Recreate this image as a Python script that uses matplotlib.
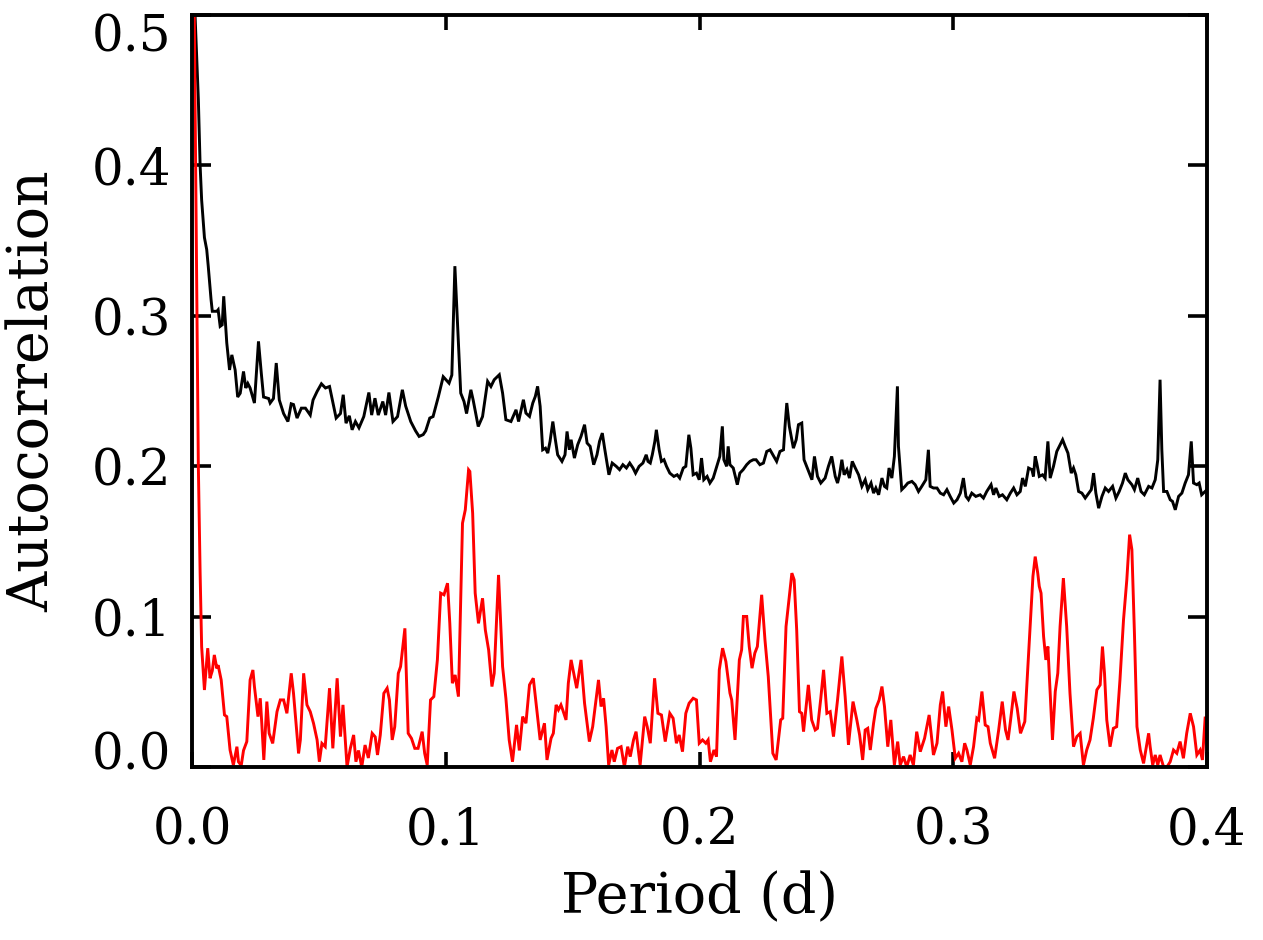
import matplotlib
matplotlib.use("Agg")
import matplotlib.pyplot as plt
import matplotlib.transforms as mtransforms
import numpy as np

# Black curve: period (d), autocorrelation
black_x = [0.0005, 0.0012, 0.0025, 0.0032, 0.0038, 0.0049, 0.0058, 0.0064, 0.0075, 0.0080, 0.0098, 0.0103,
           0.0111, 0.0119, 0.0125, 0.0130, 0.0137, 0.0148, 0.0157, 0.0170, 0.0180, 0.0190, 0.0203, 0.0212,
           0.0220, 0.0229, 0.0246, 0.0262, 0.0273, 0.0282, 0.0302, 0.0308, 0.0321, 0.0332, 0.0344, 0.0361,
           0.0378, 0.0391, 0.0400, 0.0414, 0.0431, 0.0447, 0.0466, 0.0477, 0.0493, 0.0510, 0.0526, 0.0542,
           0.0552, 0.0568, 0.0585, 0.0596, 0.0607, 0.0620, 0.0631, 0.0644, 0.0658, 0.0677, 0.0697, 0.0708,
           0.0721, 0.0734, 0.0752, 0.0763, 0.0776, 0.0792, 0.0810, 0.0829, 0.0842, 0.0862, 0.0881, 0.0895,
           0.0911, 0.0921, 0.0937, 0.0950, 0.0971, 0.0990, 0.1013, 0.1024, 0.1036, 0.1053, 0.1059, 0.1072,
           0.1082, 0.1099, 0.1108, 0.1128, 0.1145, 0.1165, 0.1178, 0.1191, 0.1211, 0.1224, 0.1237, 0.1257,
           0.1277, 0.1287, 0.1306,
           0.1316, 0.1330, 0.1343, 0.1353, 0.1362, 0.1372, 0.1382, 0.1393, 0.1402, 0.1411, 0.1422, 0.1431,
           0.1441, 0.1458, 0.1470, 0.1478, 0.1487, 0.1494, 0.1507, 0.1520, 0.1533, 0.1547, 0.1557, 0.1569,
           0.1583, 0.1596, 0.1606, 0.1617, 0.1626, 0.1643, 0.1656, 0.1672, 0.1685, 0.1698, 0.1712, 0.1725,
           0.1738, 0.1748, 0.1762, 0.1777, 0.1790, 0.1797, 0.1806, 0.1814, 0.1824, 0.1830, 0.1841, 0.1850,
           0.1860, 0.1870, 0.1883, 0.1899, 0.1912, 0.1922, 0.1936, 0.1946, 0.1958, 0.1966, 0.1975,
           0.1988, 0.1999, 0.2008, 0.2017, 0.2030, 0.2041, 0.2054, 0.2070, 0.2080, 0.2090, 0.2096, 0.2107,
           0.2113, 0.2120, 0.2133, 0.2149, 0.2159, 0.2172, 0.2186, 0.2199, 0.2212, 0.2223, 0.2238, 0.2252,
           0.2265, 0.2278, 0.2289, 0.2304, 0.2317, 0.2331, 0.2337, 0.2344, 0.2354, 0.2364, 0.2370, 0.2381,
           0.2390, 0.2403, 0.2412, 0.2425, 0.2443, 0.2453, 0.2465, 0.2478, 0.2495, 0.2508, 0.2521, 0.2535,
           0.2544, 0.2552, 0.2561, 0.2570, 0.2581, 0.2591, 0.2602, 0.2614, 0.2627, 0.2640,
           0.2653, 0.2663, 0.2676, 0.2686, 0.2695, 0.2706, 0.2719, 0.2729, 0.2738, 0.2747, 0.2758, 0.2768,
           0.2780, 0.2784, 0.2797, 0.2810, 0.2821, 0.2837, 0.2850, 0.2863, 0.2876, 0.2892, 0.2902, 0.2909,
           0.2922, 0.2936, 0.2949, 0.2962, 0.2975, 0.2988, 0.3002, 0.3015, 0.3028, 0.3040, 0.3050, 0.3060,
           0.3073, 0.3089, 0.3106, 0.3119, 0.3132, 0.3149, 0.3159, 0.3168, 0.3181, 0.3194, 0.3211, 0.3225,
           0.3238, 0.3251, 0.3264, 0.3273, 0.3284, 0.3297, 0.3310, 0.3316,
           0.3323, 0.3329, 0.3339, 0.3352, 0.3362, 0.3373, 0.3382, 0.3395, 0.3408, 0.3421, 0.3431, 0.3441,
           0.3452, 0.3465, 0.3474, 0.3483, 0.3494, 0.3507, 0.3520, 0.3534, 0.3544, 0.3553, 0.3562, 0.3573,
           0.3586, 0.3599, 0.3612, 0.3628, 0.3641, 0.3654, 0.3667, 0.3678, 0.3688, 0.3704, 0.3714, 0.3727,
           0.3740, 0.3753, 0.3770, 0.3783, 0.3796, 0.3806, 0.3815, 0.3822, 0.3829, 0.3842, 0.3855, 0.3864,
           0.3875, 0.3888, 0.3901, 0.3914, 0.3927, 0.3938, 0.3947, 0.3960, 0.3969, 0.3979, 0.3993, 0.4000]
black_y = [0.580, 0.500, 0.444, 0.400, 0.377, 0.352, 0.344, 0.333, 0.311, 0.303, 0.303, 0.304,
           0.293, 0.294, 0.313, 0.300, 0.282, 0.264, 0.274, 0.264, 0.246, 0.2485, 0.263, 0.252,
           0.255, 0.252, 0.242, 0.283, 0.262, 0.246, 0.245, 0.242, 0.245, 0.2686, 0.244, 0.235,
           0.2297, 0.2415, 0.241, 0.232, 0.2386, 0.2386, 0.234, 0.244, 0.2497, 0.2548, 0.252, 0.253,
           0.245, 0.232, 0.235, 0.2475, 0.2286, 0.2335, 0.2242, 0.2297, 0.2255, 0.233, 0.249, 0.234,
           0.2452, 0.234, 0.243, 0.234, 0.249, 0.2297, 0.233, 0.2508, 0.240, 0.2297, 0.2235, 0.2198,
           0.221, 0.2235, 0.232, 0.233, 0.2463, 0.2595, 0.2552, 0.2606, 0.333, 0.2708, 0.2486, 0.243,
           0.235, 0.2508, 0.244, 0.2264, 0.233, 0.2564, 0.253, 0.2575, 0.2608, 0.2486, 0.2309, 0.2297,
           0.2375, 0.2297, 0.2442,
           0.2353, 0.2331, 0.242, 0.2464, 0.2531, 0.2398, 0.2109, 0.212, 0.2087, 0.2165, 0.2297, 0.2187,
           0.2076, 0.2032, 0.2076, 0.2231, 0.2109, 0.2176, 0.2054, 0.2143, 0.2198, 0.2276, 0.2154, 0.2132,
           0.201, 0.2076, 0.2165, 0.222, 0.212, 0.1943, 0.2021, 0.1999, 0.1977, 0.201, 0.1988, 0.2021,
           0.1988, 0.1954, 0.1999, 0.2021, 0.2076, 0.2032, 0.2021, 0.2076, 0.2165, 0.2242, 0.2109, 0.2032,
           0.2043, 0.1999, 0.1954, 0.1932, 0.1943, 0.1921, 0.1988, 0.1999, 0.2209, 0.212, 0.1943,
           0.1954, 0.191, 0.2054, 0.191, 0.1932, 0.1888, 0.1921, 0.201, 0.2065, 0.2265, 0.2043, 0.1999,
           0.2132, 0.201, 0.1988, 0.1877, 0.1954, 0.1977, 0.201, 0.2032, 0.2043, 0.2043, 0.201, 0.2021,
           0.2098, 0.2109, 0.2076, 0.2032, 0.2098, 0.2109, 0.2265, 0.2420, 0.2265, 0.2176, 0.2120, 0.2176,
           0.2276, 0.2287, 0.2043, 0.1988, 0.191, 0.2065, 0.1932, 0.1888, 0.1921, 0.1999, 0.2065, 0.1932,
           0.1888, 0.1943, 0.2043, 0.1943, 0.1977, 0.1921, 0.2032, 0.1988, 0.1943, 0.1866,
           0.1910, 0.1844, 0.1888, 0.1821, 0.1855, 0.1810, 0.1921, 0.1866, 0.1855, 0.1988, 0.1921, 0.2065,
           0.2531, 0.2132, 0.1844, 0.1866, 0.1888, 0.1899, 0.1877, 0.1832, 0.1866, 0.1910, 0.2109, 0.1866,
           0.1855, 0.1855, 0.1821, 0.1810, 0.1844, 0.1799, 0.1755, 0.1777, 0.1821, 0.1921, 0.1799, 0.1777,
           0.1821, 0.1799, 0.1810, 0.1788, 0.1832, 0.1877, 0.1810, 0.1855, 0.1799, 0.1810, 0.1777, 0.1821,
           0.1855, 0.1810, 0.1832, 0.1921, 0.1866, 0.1988, 0.1977, 0.1932,
           0.2065, 0.2021, 0.1932, 0.1943, 0.1921, 0.2165, 0.1921, 0.1999, 0.2098, 0.2143, 0.2176, 0.2132,
           0.2087, 0.1954, 0.1988, 0.1943, 0.1832, 0.1821, 0.1788, 0.1821, 0.1844, 0.1954, 0.1821, 0.1721,
           0.1799, 0.1855, 0.1832, 0.1866, 0.1788, 0.1832, 0.1888, 0.1954, 0.1910, 0.1877, 0.1844, 0.1921,
           0.1832, 0.1810, 0.1866, 0.1855, 0.1910, 0.2043, 0.2575, 0.2109, 0.1832, 0.1832, 0.1777, 0.1766,
           0.1710, 0.1799, 0.1821, 0.1888, 0.1943, 0.2165, 0.1888, 0.1877, 0.1888, 0.1810, 0.1832, 0.1844]

# Red curve
red_x = [0.0003, 0.0009, 0.0025, 0.0032, 0.0038, 0.0049, 0.0062, 0.0071, 0.0080, 0.0088, 0.0098, 0.0103,
         0.0115, 0.0128, 0.0137, 0.0150, 0.0163, 0.0177, 0.0183, 0.0194, 0.0203, 0.0216, 0.0229, 0.0240,
         0.0246, 0.0260, 0.0269, 0.0275, 0.0283, 0.0295, 0.0304, 0.0318, 0.0335, 0.0348, 0.0361, 0.0374,
         0.0391, 0.0400, 0.0420, 0.0427, 0.0440, 0.0453, 0.0466, 0.0479, 0.0493, 0.0502, 0.0512, 0.0525,
         0.0542, 0.0555, 0.0572, 0.0585, 0.0595, 0.0611, 0.0624, 0.0637, 0.0646, 0.0656, 0.0669, 0.0682,
         0.0695, 0.0710, 0.0722, 0.0731, 0.0742, 0.0756, 0.0769, 0.0778, 0.0789, 0.0799, 0.0813, 0.0822,
         0.0839, 0.0852, 0.0865, 0.0878, 0.0891, 0.0907, 0.0917, 0.0927, 0.0940, 0.0953, 0.0967, 0.0980,
         0.0993, 0.1007, 0.1016, 0.1026, 0.1037, 0.1050, 0.1066, 0.1077, 0.1090, 0.1095, 0.1106, 0.1116,
         0.1129, 0.1145, 0.1156, 0.1169, 0.1182, 0.1191, 0.1208, 0.1224, 0.1237, 0.1250, 0.1263, 0.1279,
         0.1290, 0.1303,
         0.1316, 0.1330, 0.1345, 0.1356, 0.1372, 0.1389, 0.1399, 0.1415, 0.1424, 0.1435, 0.1444, 0.1454,
         0.1461, 0.1474, 0.1483, 0.1494, 0.1503, 0.1516, 0.1527, 0.1533, 0.1547, 0.1566, 0.1579, 0.1589,
         0.1602, 0.1612, 0.1622, 0.1632, 0.1642, 0.1655, 0.1664, 0.1677, 0.1691, 0.1704, 0.1717, 0.1727,
         0.1740, 0.1750, 0.1766, 0.1784, 0.1794, 0.1806, 0.1823, 0.1836, 0.1850, 0.1865, 0.1883, 0.1896,
         0.1909, 0.1920, 0.1933, 0.1946, 0.1959, 0.1975,
         0.1988, 0.1999, 0.2012, 0.2025, 0.2034, 0.2043, 0.2057, 0.2067, 0.2078, 0.2091, 0.2104, 0.2120,
         0.2127, 0.2140, 0.2157, 0.2166, 0.2173, 0.2186, 0.2196, 0.2207, 0.2218, 0.2228, 0.2245, 0.2258,
         0.2271, 0.2289, 0.2302, 0.2311, 0.2320, 0.2328, 0.2341, 0.2354, 0.2364, 0.2373, 0.2383, 0.2394,
         0.2403, 0.2410, 0.2429, 0.2442, 0.2456, 0.2465, 0.2478, 0.2489, 0.2502, 0.2515, 0.2528, 0.2544,
         0.2561, 0.2574, 0.2587, 0.2605, 0.2620, 0.2631, 0.2643,
         0.2653, 0.2663, 0.2673, 0.2686, 0.2695, 0.2708, 0.2719, 0.2729, 0.2742, 0.2754, 0.2768, 0.2781,
         0.2791, 0.2804, 0.2817, 0.2830, 0.2843, 0.2856, 0.2870, 0.2887, 0.2905, 0.2922, 0.2936, 0.2949,
         0.2958, 0.2971, 0.2982, 0.2995, 0.3008, 0.3021, 0.3034, 0.3045, 0.3054, 0.3067, 0.3080, 0.3093,
         0.3100, 0.3113, 0.3126, 0.3137, 0.3146, 0.3163, 0.3179, 0.3193, 0.3206, 0.3216, 0.3226, 0.3239,
         0.3252, 0.3265, 0.3282, 0.3294, 0.3305, 0.3314,
         0.3323, 0.3333, 0.3339, 0.3346, 0.3356, 0.3365, 0.3373, 0.3382, 0.3391, 0.3402, 0.3412, 0.3421,
         0.3434, 0.3447, 0.3460, 0.3474, 0.3487, 0.3500, 0.3513, 0.3526, 0.3539, 0.3552, 0.3566, 0.3579,
         0.3588, 0.3596, 0.3605, 0.3618, 0.3631, 0.3644, 0.3657, 0.3671, 0.3684, 0.3695, 0.3704, 0.3714,
         0.3724, 0.3737, 0.3750, 0.3759, 0.3770, 0.3776, 0.3786, 0.3796, 0.3806, 0.3815, 0.3829, 0.3842,
         0.3855, 0.3868, 0.3881, 0.3894, 0.3907, 0.3920, 0.3934, 0.3947, 0.3960, 0.3973, 0.3982, 0.3993,
         0.4000]
red_y = [0.700, 0.500, 0.200, 0.129, 0.080, 0.0512, 0.079, 0.059, 0.064, 0.0745, 0.0655, 0.0677,
         0.0579, 0.0346, 0.0335, 0.0113, 0.0013, 0.0135, 0.0035, 0.001, 0.011, 0.0169, 0.0579, 0.0645,
         0.0535, 0.0335, 0.0457, 0.029, 0.0047, 0.0435, 0.0224, 0.0157, 0.0368, 0.0446, 0.0446, 0.0357,
         0.0623, 0.049, 0.0091, 0.018, 0.0623, 0.0413, 0.0368, 0.029, 0.018, 0.0035, 0.0157, 0.0135,
         0.0524, 0.0124, 0.059, 0.0202, 0.0413, 0.0, 0.0124, 0.0213, 0.0035, 0.011, 0.0, 0.0146,
         0.006, 0.0224, 0.020, 0.008, 0.0213, 0.049, 0.0524, 0.0446, 0.018, 0.0268, 0.0623, 0.0668,
         0.0922, 0.0224, 0.019, 0.0124, 0.0124, 0.0235, 0.009, 0.0013, 0.0446, 0.0468, 0.0712, 0.1156,
         0.1145, 0.1222, 0.0955, 0.0557, 0.0612, 0.0468, 0.1621, 0.171, 0.1976, 0.1965, 0.1688, 0.1156,
         0.0955, 0.1122, 0.0911, 0.0778, 0.0535, 0.0623, 0.1277, 0.0668, 0.0457, 0.018, 0.0035, 0.028,
         0.011, 0.0335,
         0.0291, 0.0546, 0.0590, 0.0424, 0.0180, 0.0291, 0.0047, 0.0191, 0.0224, 0.0413, 0.0380, 0.0413,
         0.0380, 0.0313, 0.0557, 0.0712, 0.0635, 0.0524, 0.0646, 0.0712, 0.0424, 0.0169, 0.0268, 0.0402,
         0.0579, 0.0402, 0.0457, 0.0268, 0.0013, 0.0113, 0.0035, 0.0124, 0.0135, 0.0, 0.0135, 0.0069,
         0.0180, 0.0235, 0.0013, 0.0335, 0.0268, 0.0158, 0.0590, 0.0357, 0.0346, 0.0169, 0.0357, 0.0324,
         0.0158, 0.0213, 0.0102, 0.0357, 0.0424, 0.0457,
         0.0446, 0.0158, 0.0180, 0.0158, 0.0180, 0.0035, 0.0113, 0.0069, 0.0646, 0.0790, 0.0701, 0.0491,
         0.0446, 0.0180, 0.0712, 0.0779, 0.1001, 0.1001, 0.0801, 0.0657, 0.0757, 0.0801, 0.1145, 0.0845,
         0.0601, 0.0091, 0.0047, 0.0180, 0.0313, 0.0324, 0.0934, 0.1134, 0.1289, 0.1245, 0.0912, 0.0368,
         0.0357, 0.0235, 0.0546, 0.0313, 0.0246, 0.0257, 0.0457, 0.0646, 0.0357, 0.0368, 0.0202, 0.0446,
         0.0735, 0.0468, 0.0147, 0.0435, 0.0313, 0.0213, 0.0047,
         0.0246, 0.0257, 0.0113, 0.0291, 0.0390, 0.0446, 0.0535, 0.0402, 0.0135, 0.0313, 0.0013, 0.0169,
         0.0013, 0.0069, 0.0, 0.0080, 0.0013, 0.0235, 0.0102, 0.0191, 0.0346, 0.0080, 0.0158, 0.0413,
         0.0502, 0.0268, 0.0402, 0.0246, 0.0058, 0.0091, 0.0035, 0.0158, 0.0113, 0.0013, 0.0135, 0.0324,
         0.0313, 0.0502, 0.0279, 0.0268, 0.0158, 0.0058, 0.0246, 0.0435, 0.0246, 0.0180, 0.0313, 0.0502,
         0.0390, 0.0224, 0.0302, 0.0668, 0.1001, 0.1267,
         0.1399, 0.1289, 0.1201, 0.1156, 0.0868, 0.0712, 0.0801, 0.0491, 0.0180, 0.0502, 0.0624, 0.0934,
         0.1256, 0.0934, 0.0491, 0.0135, 0.0202, 0.0224, 0.0013, 0.0113, 0.0180, 0.0324, 0.0513, 0.0546,
         0.0801, 0.0624, 0.0313, 0.0135, 0.0257, 0.0268, 0.0579, 0.0979, 0.1245, 0.1545, 0.1445, 0.0890,
         0.0268, 0.0113, 0.0024, 0.0113, 0.0224, 0.0135, 0.0013, 0.0080, 0.0013, 0.0080, 0.0, 0.0,
         0.0035, 0.0113, 0.0091, 0.0169, 0.0058, 0.0224, 0.0357, 0.0268, 0.0080, 0.0113, 0.0047, 0.0335,
         0.0180]

xticks = [0.0, 0.1, 0.2, 0.3, 0.4]
yticks = [0.0, 0.1, 0.2, 0.3, 0.4, 0.5]

FONT = "DejaVu Serif"

fig = plt.figure(figsize=(12.63, 9.40), dpi=100)
ax = fig.add_axes([192 / 1263, 1 - 767 / 940, 1015 / 1263, 752 / 940])

ax.plot(black_x, black_y, color="black", lw=2.1, solid_joinstyle="miter")
ax.plot(red_x, red_y, color="red", lw=2.1, solid_joinstyle="miter")

ax.set_xlim(0.0, 0.4)
ax.set_ylim(0.0, 0.5)
ax.set_xticks(xticks)
ax.set_yticks(yticks)
ax.set_xticklabels([f"{t:.1f}" for t in xticks])
ax.set_yticklabels([f"{t:.1f}" for t in yticks])

for s in ax.spines.values():
    s.set_linewidth(2.8)

ax.tick_params(axis="x", which="major", direction="in", length=11, width=2.6,
               top=True, bottom=True, pad=28)
ax.tick_params(axis="y", which="major", direction="in", length=14, width=2.6,
               left=True, right=True, pad=15)
ax.minorticks_off()

for lab in ax.get_xticklabels() + ax.get_yticklabels():
    lab.set_fontfamily(FONT)
    lab.set_fontsize(36)

# end labels on the y axis are nudged inward (as in the original)
ylabs = ax.get_yticklabels()
ylabs[0].set_transform(ylabs[0].get_transform() +
                       mtransforms.ScaledTranslation(0, 17 / 100, fig.dpi_scale_trans))
ylabs[-1].set_transform(ylabs[-1].get_transform() +
                        mtransforms.ScaledTranslation(0, -17 / 100, fig.dpi_scale_trans))

ax.set_xlabel("Period (d)", fontfamily=FONT, fontsize=40)
ax.set_ylabel("Autocorrelation", fontfamily=FONT, fontsize=40)
ax.xaxis.set_label_coords(0.5, -0.137)
ax.yaxis.set_label_coords(-0.130, 0.5)

fig.savefig("out.png", dpi=100)
